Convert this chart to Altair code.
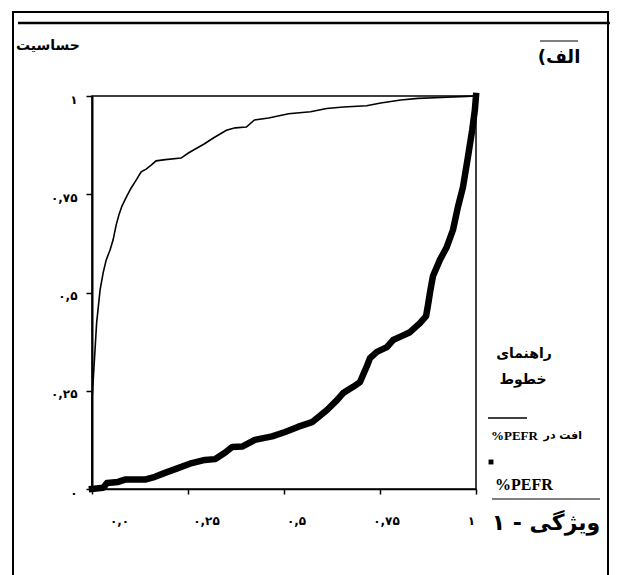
import altair as alt
import pandas as pd

# ---- data ----
upper_x = [0.0, 0.0, 0.012, 0.021, 0.029, 0.037, 0.047, 0.055, 0.063, 0.070, 0.078, 0.091,
           0.102, 0.115, 0.128, 0.141, 0.154, 0.167, 0.191, 0.232, 0.251, 0.269, 0.292,
           0.316, 0.350, 0.373, 0.402, 0.423, 0.460, 0.512, 0.569, 0.611, 0.655, 0.715,
           0.752, 0.804, 0.849, 0.909, 0.976, 1.0]
upper_y = [0.0, 0.226, 0.422, 0.506, 0.550, 0.583, 0.608, 0.634, 0.672, 0.697, 0.720, 0.746,
           0.766, 0.786, 0.807, 0.814, 0.824, 0.835, 0.838, 0.842, 0.855, 0.865, 0.878,
           0.893, 0.913, 0.919, 0.921, 0.939, 0.944, 0.955, 0.960, 0.968, 0.972, 0.975,
           0.982, 0.990, 0.994, 0.996, 0.999, 1.0]

lower_x = [0.0, 0.029, 0.039, 0.068, 0.086, 0.138, 0.164, 0.190, 0.224, 0.260, 0.294, 0.320,
           0.346, 0.365, 0.391, 0.424, 0.469, 0.503, 0.536, 0.573, 0.612, 0.638, 0.654,
           0.680, 0.698, 0.708, 0.716, 0.724, 0.742, 0.768, 0.784, 0.802, 0.828, 0.854,
           0.870, 0.875, 0.880, 0.888, 0.906, 0.924, 0.940, 0.953, 0.966, 0.979, 0.990,
           0.997, 1.0]
lower_y = [0.0, 0.003, 0.015, 0.018, 0.024, 0.024, 0.031, 0.041, 0.053, 0.066, 0.074, 0.076,
           0.092, 0.107, 0.108, 0.125, 0.134, 0.145, 0.158, 0.170, 0.201, 0.226, 0.244,
           0.260, 0.272, 0.295, 0.313, 0.333, 0.349, 0.361, 0.379, 0.387, 0.399, 0.422,
           0.440, 0.468, 0.499, 0.542, 0.583, 0.616, 0.659, 0.718, 0.768, 0.845, 0.913,
           0.964, 1.0]

tick_values = [0, 0.25, 0.5, 0.75, 1]
y_tick_labels = ["۰", "۰,۲۵", "۰,۵", "۰,۷۵", "۱"]
x_tick_labels = ["۰,۰", "۰,۲۵", "۰,۵", "۰,۷۵", "۱"]

title_y = "حساسیت"
title_x = "ویژگی - ۱"
panel_label = "(الف"   # shown right-to-left as "الف)"
legend_title_1 = "راهنمای"
legend_title_2 = "خطوط"
legend_item_1_ar = "افت در"
legend_item_1_en = "%PEFR"
legend_item_2 = "%PEFR"

AR_FONT = "DejaVu Sans"
EN_FONT = "Liberation Serif"

# plot area: page x 92..476, y 96..489
W, H = 384, 393
OX, OY = 92, 96


def px(X):
    return X - OX


def py(Y):
    return Y - OY


def label_expr(labels):
    parts = []
    for v, lab in zip(tick_values[:-1], labels[:-1]):
        parts.append(f"datum.value == {v} ? '{lab}'")
    return " : ".join(parts) + f" : '{labels[-1]}'"


upper_df = pd.DataFrame({"x": upper_x, "y": upper_y})
lower_df = pd.DataFrame({"x": lower_x, "y": lower_y})
one = pd.DataFrame({"d": [0]})

x_enc = alt.X(
    "x:Q",
    scale=alt.Scale(domain=[0, 1], nice=False, zero=False),
    axis=alt.Axis(
        values=tick_values, labelExpr=label_expr(x_tick_labels), title=None, grid=False,
        tickSize=5, tickWidth=1.5, tickColor="black", domainColor="black", domainWidth=1.5,
        labelPadding=26, labelBaseline="middle", labelFont=AR_FONT, labelFontSize=12,
        labelFontWeight="bold", labelColor="black", labelFlush=False, labelBound=False,
        labelOverlap=False,
        labelOffset={"condition": [
            {"test": "datum.value == 0", "value": 27},
            {"test": "datum.value == 0.25", "value": 18},
            {"test": "datum.value == 0.5", "value": 12},
            {"test": "datum.value == 1", "value": -5}], "value": 6},
    ),
)
y_enc = alt.Y(
    "y:Q",
    scale=alt.Scale(domain=[0, 1], nice=False, zero=False),
    axis=alt.Axis(
        values=tick_values, labelExpr=label_expr(y_tick_labels), title=None, grid=False,
        tickSize=6, tickWidth=1.5, tickColor="black", domainColor="black", domainWidth=2,
        labelPadding=9, labelFont=AR_FONT, labelFontSize=12, labelFontWeight="bold",
        labelColor="black", labelFlush=False, labelBound=False, labelOverlap=False,
        labelOffset=3,
    ),
)

upper = alt.Chart(upper_df).mark_line(color="black", strokeWidth=1.6).encode(
    x=x_enc, y=y_enc, order="x:Q")
lower = alt.Chart(lower_df).mark_line(
    color="black", strokeWidth=6.5, strokeJoin="round", strokeCap="square").encode(
    x=x_enc, y=y_enc, order="x:Q")


def txt(X, Y, s, size, font=AR_FONT, align="center", weight="bold", direction=None):
    kw = dict(fontSize=size, font=font, fontWeight=weight, align=align,
              baseline="middle", color="black")
    if direction:
        kw["dir"] = direction
    return alt.Chart(one).mark_text(**kw).encode(
        x=alt.value(px(X)), y=alt.value(py(Y)), text=alt.value(s))


def hline(X1, X2, Y, width=1.5):
    return alt.Chart(one).mark_rule(color="black", strokeWidth=width).encode(
        x=alt.value(px(X1)), x2=alt.value(px(X2)), y=alt.value(py(Y)))


border = alt.Chart(one).mark_rect(fill=None, stroke="black", strokeWidth=2).encode(
    x=alt.value(px(13)), x2=alt.value(px(608)),
    y=alt.value(py(12)), y2=alt.value(py(600)))

dot = alt.Chart(one).mark_square(color="black", size=24, opacity=1).encode(
    x=alt.value(px(491)), y=alt.value(py(462)))

layers = [
    border,
    hline(18, 610, 23, 2.5),
    txt(48, 46, title_y, 14, direction="rtl"),
    hline(540, 578, 41, 1.2),
    txt(559, 58, panel_label, 18, direction="rtl"),
    lower,
    upper,
    txt(524, 354, legend_title_1, 14, direction="rtl"),
    txt(523, 380, legend_title_2, 14, direction="rtl"),
    hline(488, 527, 418, 1.5),
    txt(491, 436, legend_item_1_en, 13, font=EN_FONT, align="left"),
    txt(582, 436, legend_item_1_ar, 11, align="right", direction="rtl"),
    dot,
    txt(495, 485, legend_item_2, 16, font=EN_FONT, align="left"),
    hline(492, 600, 499, 1.2),
    txt(546, 523, title_x, 22, direction="rtl"),
]

chart = alt.layer(*layers).properties(
    width=W, height=H,
    autosize=alt.AutoSizeParams(type="none"),
    padding={"left": OX - 8, "top": OY - 8, "right": 604 - (OX - 8) - W, "bottom": 90},
    background="white",
).configure_view(stroke="black", strokeWidth=1.5)

chart.save("out.html", embed_options={"renderer": "svg", "actions": False})
